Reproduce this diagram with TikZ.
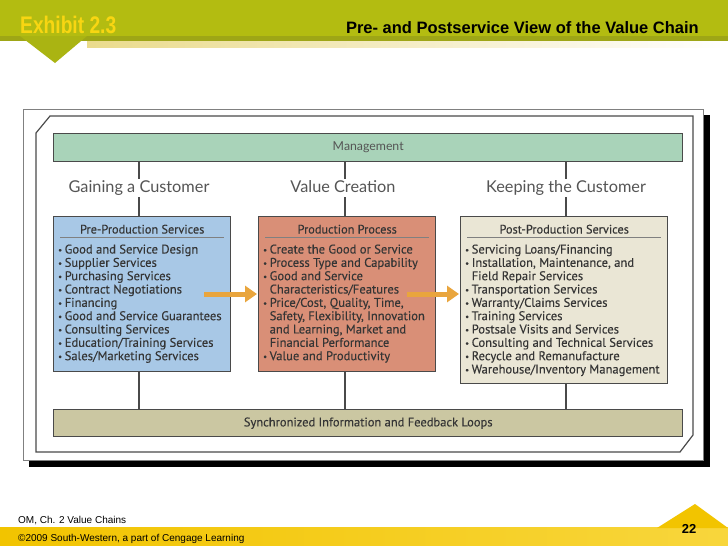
\documentclass[tikz,border=0pt]{standalone}
\usepackage{fontspec}
\setmainfont{Liberation Sans}
\newfontfamily\boxfont[FakeBold=0.2]{PT Sans}
\newfontfamily\labfont{Lato}
\newfontfamily\exhfont[FakeStretch=0.8]{Liberation Sans}
\usetikzlibrary{arrows.meta,calc}
\definecolor{hdrgreen}{HTML}{B3BC11}
\definecolor{hdrtri}{HTML}{AAB412}
\definecolor{hdrdark}{HTML}{9EA616}
\definecolor{hdrband}{HTML}{EADB8C}
\definecolor{exhyel}{HTML}{F8D612}
\definecolor{mgmtgreen}{HTML}{A9D3B9}
\definecolor{preblue}{HTML}{A8C8E6}
\definecolor{prodred}{HTML}{D98F77}
\definecolor{postbeige}{HTML}{EAE6D5}
\definecolor{syncbar}{HTML}{CBC7A2}
\definecolor{arroworange}{HTML}{E9A53D}
\definecolor{edgegray}{HTML}{4A4A4A}
\definecolor{txtgray}{HTML}{353535}
\definecolor{labgray}{HTML}{555555}
\definecolor{footyel}{HTML}{F2C400}
\definecolor{footyellight}{HTML}{F8D63C}
\newcommand{\bl}{\makebox[6.5pt][l]{\raisebox{0.6pt}{\fontsize{8.5}{8.5}\selectfont •}}}
\newcommand{\cl}{\hspace*{6.5pt}}
\begin{document}
\begin{tikzpicture}[x=1pt,y=-1pt,
  boxstyle/.style={draw=edgegray, line width=1.4pt, anchor=north west, inner sep=0pt},
  conn/.style={draw=edgegray, line width=1.6pt},
  labtxt/.style={font=\labfont\fontsize{16.3}{16}\selectfont, text=labgray, inner sep=2pt, text height=11.5pt, text depth=3pt},
  hdrtxt/.style={font=\boxfont\fontsize{12.3}{13}\selectfont, text=txtgray, inner sep=0pt, anchor=base},
  itemtxt/.style={font=\boxfont\fontsize{12.6}{13}\selectfont, text=txtgray, inner sep=0pt, anchor=base west},
  sepline/.style={draw=gray, line width=0.6pt},
  bigarrow/.style={draw=arroworange, line width=5pt, -{Triangle[length=12pt,width=16pt]}},
  foottxt/.style={font=\fontsize{10}{10}\selectfont, inner sep=0pt, anchor=base west}]
\useasboundingbox (0,0) rectangle (728,546);
\fill[white] (0,0) rectangle (728,546);
% header
\fill[hdrgreen] (0,0) rectangle (728,36);
\fill[hdrdark] (0,36) rectangle (728,41);
\shade[left color=hdrband, right color=white] (87,41) rectangle (728,47);
\fill[hdrtri] (20,36) -- (87,36) -- (55,63) -- cycle;
\node[font=\exhfont\bfseries\fontsize{24}{24}\selectfont, text=exhyel, inner sep=0pt, anchor=base west] (exh) at (20,33) {Exhibit 2.3};
\node[font=\bfseries\fontsize{16.5}{17}\selectfont, text=black, inner sep=0pt, anchor=base east] (title) at (699,33) {Pre- and Postservice View of the Value Chain};
% frame
\fill[black] (29,115) rectangle (710,467);
\filldraw[fill=white, draw=gray, line width=0.8pt] (23,109) rectangle (703,460);
\draw[edgegray, line width=1.2pt] (36,133) -- (50,116) -- (693,116) -- (693,435) -- (680,452) -- (36,452) -- cycle;
% bars and boxes
\node[boxstyle, fill=mgmtgreen, minimum width=629pt, minimum height=28pt] (mgmt) at (53,133) {};
\node[font=\labfont\fontsize{12.3}{12}\selectfont, text=labgray] (mgmtt) at (mgmt.center) {Management};
\node[boxstyle, fill=preblue, minimum width=177pt, minimum height=155pt] (pre) at (53,216) {};
\node[boxstyle, fill=prodred, minimum width=177pt, minimum height=155pt] (prod) at (258,216) {};
\node[boxstyle, fill=postbeige, minimum width=207pt, minimum height=167pt] (post) at (460,216) {};
\node[boxstyle, fill=syncbar, minimum width=629pt, minimum height=27pt] (sync) at (53,409) {};
\node[font=\boxfont\fontsize{12.5}{12}\selectfont, text=txtgray] (synct) at (sync.center) {Synchronized Information and Feedback Loops};
% labels
\node[labtxt] (lab1) at (139,188) {Gaining a Customer};
\node[labtxt] (lab2) at (343,188) {Value Creation};
\node[labtxt] (lab3) at (566,188) {Keeping the Customer};
\coordinate (c1) at (139,0);
\coordinate (c2) at (345,0);
\coordinate (c3) at (566,0);
\foreach \c/\l/\b in {c1/lab1/pre, c2/lab2/prod, c3/lab3/post}{
  \draw[conn] (\c |- mgmt.south) -- (\c |- \l.north);
  \draw[conn] (\c |- \l.south) -- (\c |- \b.north);
  \draw[conn] (\c |- \b.south) -- (\c |- sync.north);
}
% headers
\node[hdrtxt] (preh) at ($(pre.north)+(0,17.5)$) {Pre-Production Services};
\node[hdrtxt] (prodh) at ($(prod.north)+(0,17.5)$) {Production Process};
\node[hdrtxt] (posth) at ($(post.north)+(0,17.5)$) {Post-Production Services};
\draw[sepline] ($(pre.north west)+(7,21)$) -- ($(pre.north east)+(-7,21)$);
\draw[sepline] ($(prod.north west)+(7,21)$) -- ($(prod.north east)+(-7,21)$);
\draw[sepline] ($(post.north west)+(7,21)$) -- ($(post.north east)+(-7,21)$);
% items
\foreach \t [count=\i from 0] in {{\bl Good and Service Design},{\bl Supplier Services},{\bl Purchasing Services},{\bl Contract Negotiations},{\bl Financing},{\bl Good and Service Guarantees},{\bl Consulting Services},{\bl Education/Training Services},{\bl Sales/Marketing Services}}
  \node[itemtxt] (pre-\i) at (58,{253.5+13.33*\i}) {\t};
\foreach \t [count=\i from 0] in {{\bl Create the Good or Service},{\bl Process Type and Capability},{\bl Good and Service},{\cl Characteristics/Features},{\bl Price/Cost, Quality, Time,},{\cl Safety, Flexibility, Innovation},{\cl and Learning, Market and},{\cl Financial Performance},{\bl Value and Productivity}}
  \node[itemtxt] (prod-\i) at (263,{253.5+13.33*\i}) {\t};
\foreach \t [count=\i from 0] in {{\bl Servicing Loans/Financing},{\bl Installation, Maintenance, and},{\cl Field Repair Services},{\bl Transportation Services},{\bl Warranty/Claims Services},{\bl Training Services},{\bl Postsale Visits and Services},{\bl Consulting and Technical Services},{\bl Recycle and Remanufacture},{\bl Warehouse/Inventory Management}}
  \node[itemtxt] (post-\i) at (465,{253.5+13.33*\i}) {\t};
% arrows
\coordinate (a1s) at (204,294);
\coordinate (a1e) at (257,294);
\coordinate (a2s) at (407,294);
\coordinate (a2e) at (459,294);
\draw[bigarrow] (a1s) -- (a1e);
\draw[bigarrow] (a2s) -- (a2e);
% footer
\shade[left color=footyel, right color=footyellight] (0,527) rectangle (728,546);
\fill[footyel] (657,528) -- (695,504) -- (728,528) -- cycle;
\node[foottxt] (f1) at (18,523) {OM, Ch. 2 Value Chains};
\node[foottxt] (f2) at (18,541) {\textcopyright2009 South-Western, a part of Cengage Learning};
\node[font=\bfseries\fontsize{13}{13}\selectfont, inner sep=0pt] (pg) at (689,529) {22};
\end{tikzpicture}
\end{document}
